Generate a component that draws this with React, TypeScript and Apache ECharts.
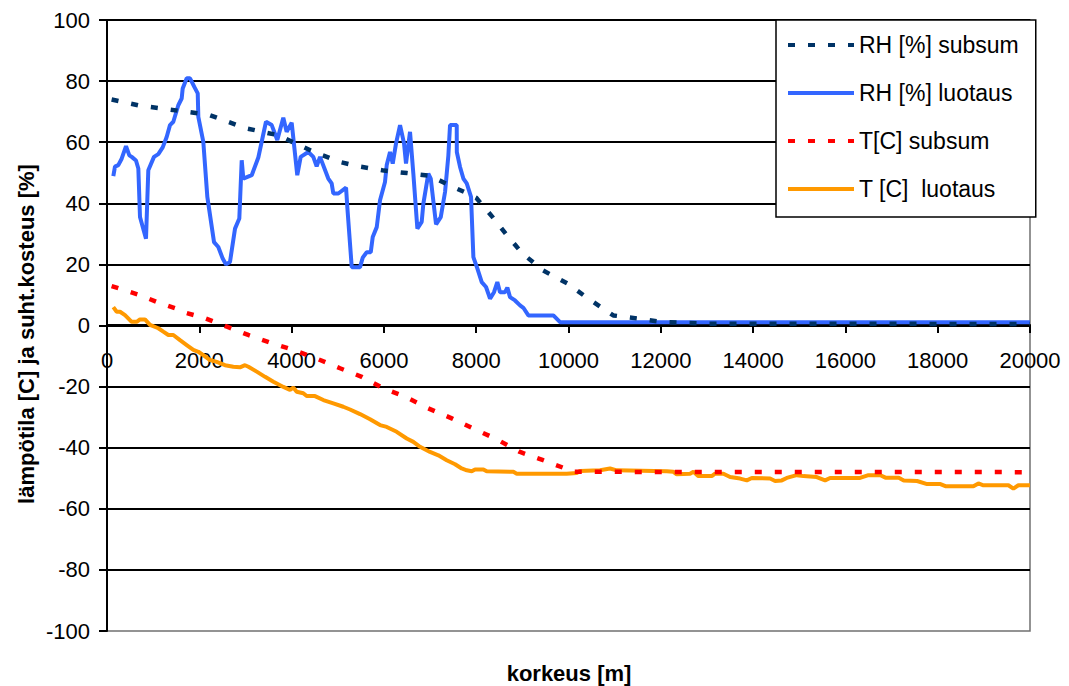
import React, { useEffect, useRef } from "react";
import * as echarts from "echarts";

const FONT = "'Liberation Sans', Arial, sans-serif";

const seriesNames = ["RH [%] subsum", "RH [%] luotaus", "T[C] subsum", "T [C]  luotaus"];
const seriesColors = ["#003366", "#3366FF", "#FF0000", "#FF9900"];

const xTitle = "korkeus [m]";
const yTitle = "lämpötila [C] ja suht.kosteus [%]";

const rhSubsum: number[][] = [
  [100, 74], [700, 72], [1700, 70], [2200, 69], [3000, 64.6], [3700, 62.3], [4500, 56.7],
  [5050, 53.5], [5450, 52.1], [6000, 50.7], [6500, 49.9], [7000, 49], [7450, 45.7],
  [7800, 43.3], [8000, 41.8], [8360, 35.4], [8670, 29.5], [9000, 23.6], [9450, 18],
  [9970, 13.8], [10420, 8.9], [10970, 3.3], [11500, 2.3], [12000, 1.2], [13000, 0.6], [20000, 0.5],
];

const rhLuotaus: number[][] = [
  [137, 48.9], [173, 52], [245, 52.5], [318, 54.6], [412, 58.7], [484, 55.7], [535, 55.2],
  [628, 54], [679, 51.4], [715, 35.5], [845, 28.4], [895, 50.8], [1018, 55.2], [1112, 56.1],
  [1207, 58.3], [1293, 61.7], [1365, 65.6], [1437, 66.7], [1545, 72.1], [1618, 74.3],
  [1640, 77.6], [1727, 80.9], [1799, 80.9], [1892, 78.1], [1966, 76], [1979, 68.3],
  [2087, 60.1], [2174, 42.1], [2319, 27.3], [2412, 25.7], [2507, 21.9], [2579, 20],
  [2665, 20.8], [2774, 31.7], [2867, 35], [2919, 54.1], [2954, 48.1], [3136, 49.2],
  [3279, 55], [3374, 61.7], [3445, 66.7], [3569, 65.6], [3690, 60.7], [3820, 68],
  [3893, 63.4], [4002, 66.4], [4123, 49.2], [4197, 55.2], [4362, 56.8], [4470, 55.2],
  [4543, 52.1], [4616, 55.2], [4795, 48.1], [4868, 46.5], [4904, 43.2], [5013, 43.2],
  [5180, 45.1], [5207, 38.8], [5303, 19.1], [5483, 19.1], [5541, 22.2], [5628, 24],
  [5715, 24], [5758, 29], [5845, 32.2], [5916, 41], [6024, 47], [6061, 52.5], [6133, 56.8],
  [6191, 53], [6263, 59.6], [6350, 65.6], [6436, 59.6], [6479, 53], [6566, 63.4],
  [6638, 49.7], [6725, 31.7], [6819, 33.9], [6855, 39.9], [6963, 49.7], [7015, 48.1],
  [7130, 33.1], [7232, 35.5], [7325, 43.7], [7397, 55.7], [7433, 65.6], [7578, 65.6],
  [7580, 56.8], [7650, 51.9], [7722, 48.1], [7795, 46.5], [7888, 42.1], [7939, 22.4],
  [8026, 18.6], [8120, 14.2], [8213, 12.6], [8300, 8.8], [8386, 10.9], [8458, 14.2],
  [8516, 10.9], [8625, 10.9], [8675, 12.4], [8733, 9.3], [8841, 8.2], [8950, 6.6],
  [9022, 5.8], [9130, 3.3], [9672, 3.3], [9817, 1.1], [20000, 1.1],
];

const tSubsum: number[][] = [
  [100, 12.9], [700, 10], [1150, 7.3], [1600, 5], [1700, 4.2], [2120, 2.4], [2600, -0.4],
  [3060, -3.1], [3570, -5.8], [4040, -8], [4540, -10.8], [5050, -14], [5520, -16.8],
  [5990, -20.6], [6460, -23.3], [6960, -27.1], [7470, -30.4], [7980, -34], [8450, -37.3],
  [8950, -41.4], [9450, -44.1], [9930, -46.8], [10110, -47.9], [20000, -48],
];

const tLuotaus: number[][] = [
  [137, 6], [210, 4.5], [282, 4.5], [390, 3.4], [535, 1.2], [643, 1.2], [715, 2], [823, 2],
  [932, 0.2], [1112, -0.9], [1220, -2], [1329, -3.1], [1437, -3.1], [1582, -4.8],
  [1727, -6.4], [1871, -8], [1979, -8.6], [2087, -9.7], [2232, -11.3], [2377, -11.9],
  [2557, -13], [2738, -13.5], [2882, -13.7], [2991, -13], [3064, -13.5], [3244, -15.1],
  [3425, -16.8], [3605, -18.4], [3822, -20.1], [3966, -21.1], [4037, -20.3], [4110, -21.7],
  [4254, -22.2], [4327, -23.1], [4507, -23.1], [4688, -24.4], [4904, -25.5], [5120, -26.6],
  [5266, -27.5], [5483, -29], [5700, -30.7], [5916, -32.6], [6061, -33.2], [6277, -34.8],
  [6494, -37], [6638, -38.1], [6783, -39.7], [6999, -41.4], [7180, -42.5], [7361, -44.1],
  [7542, -45.4], [7686, -46.8], [7795, -47.4], [7903, -47.7], [7975, -47.1], [8156, -47.1],
  [8228, -47.7], [8806, -47.9], [8878, -48.5], [9961, -48.5], [10178, -48.3], [10250, -47.6],
  [10684, -47.4], [10900, -46.8], [11045, -47.4], [12128, -47.7], [12273, -47.9],
  [12345, -48.7], [12634, -48.5], [12707, -47.9], [12815, -49.3], [13104, -49.3],
  [13176, -48.5], [13357, -48.5], [13502, -49.6], [13719, -50.1], [13863, -50.7],
  [13972, -49.9], [14368, -50.1], [14476, -50.9], [14621, -50.7], [14729, -49.9],
  [14946, -49], [15090, -49.3], [15379, -49.6], [15560, -50.7], [15668, -49.9],
  [16318, -49.9], [16499, -49], [16759, -49], [16867, -49.8], [17156, -49.8],
  [17264, -50.7], [17553, -50.9], [17770, -51.9], [18059, -51.9], [18167, -52.6],
  [18774, -52.6], [18882, -51.7], [18990, -52.3], [19532, -52.3], [19640, -53.4],
  [19748, -52.3], [20000, -52.3],
];

const seriesData = [rhSubsum, rhLuotaus, tSubsum, tLuotaus];
const dashed = [true, false, true, false];

export default function App() {
  const ref = useRef<HTMLDivElement>(null);
  useEffect(() => {
    if (!ref.current) return;
    const chart = echarts.init(ref.current, undefined, { renderer: "svg" });
    chart.setOption({
      animation: false,
      backgroundColor: "#ffffff",
      grid: {
        left: 107,
        right: 39,
        top: 20,
        bottom: 55,
        show: true,
        borderColor: "#707070",
        borderWidth: 1.5,
        backgroundColor: "transparent",
      },
      legend: {
        orient: "vertical",
        left: 776,
        top: 20,
        padding: [13, 17, 16, 10],
        backgroundColor: "#ffffff",
        borderColor: "#000000",
        borderWidth: 1.5,
        borderRadius: 0,
        itemWidth: 66,
        itemHeight: 14,
        itemGap: 24,
        itemStyle: { opacity: 0 },
        lineStyle: { width: 4 },
        data: seriesNames,
        textStyle: { fontFamily: FONT, fontSize: 23, color: "#000", lineHeight: 24 },
      },
      xAxis: {
        type: "value",
        min: 0,
        max: 20000,
        interval: 2000,
        offset: -306,
        axisLine: { onZero: false, lineStyle: { color: "#000", width: 2 } },
        axisTick: { show: true, inside: false, length: 8, lineStyle: { color: "#000", width: 2 } },
        axisLabel: {
          fontFamily: FONT,
          fontSize: 22,
          color: "#000",
          margin: 24,
          formatter: (v: number) => String(v),
        },
        splitLine: { show: false },
      },
      yAxis: {
        type: "value",
        min: -100,
        max: 100,
        interval: 20,
        axisLine: { show: true, onZero: false, lineStyle: { color: "#000", width: 2 } },
        axisTick: { show: true, inside: false, length: 8, lineStyle: { color: "#000", width: 2 } },
        axisLabel: { fontFamily: FONT, fontSize: 22, color: "#000", margin: 17 },
        splitLine: { show: true, showMinLine: false, lineStyle: { color: "#000", width: 2 } },
      },
      graphic: [
        {
          type: "text",
          x: 569,
          y: 673,
          style: {
            text: xTitle,
            fontFamily: FONT,
            fontSize: 22,
            fontWeight: "bold",
            fill: "#000",
            align: "center",
            verticalAlign: "middle",
          },
        },
        {
          type: "text",
          x: 26,
          y: 334,
          rotation: Math.PI / 2,
          style: {
            text: yTitle,
            fontFamily: FONT,
            fontSize: 22,
            fontWeight: "bold",
            fill: "#000",
            align: "center",
            verticalAlign: "middle",
          },
        },
      ],
      series: seriesNames.map((name, i) => ({
        name,
        type: "line",
        data: seriesData[i],
        symbol: "none",
        showSymbol: false,
        z: i === 0 ? 4 : i === 2 ? 4 : 3,
        color: seriesColors[i],
        lineStyle: {
          color: seriesColors[i],
          width: dashed[i] ? 4.5 : 4,
          type: dashed[i] ? [7, 13] : "solid",
          cap: "butt",
        },
      })),
    });
    return () => chart.dispose();
  }, []);
  return (
    <div
      ref={ref}
      style={{ position: "fixed", left: 0, top: 0, width: 1069, height: 686 }}
    />
  );
}
